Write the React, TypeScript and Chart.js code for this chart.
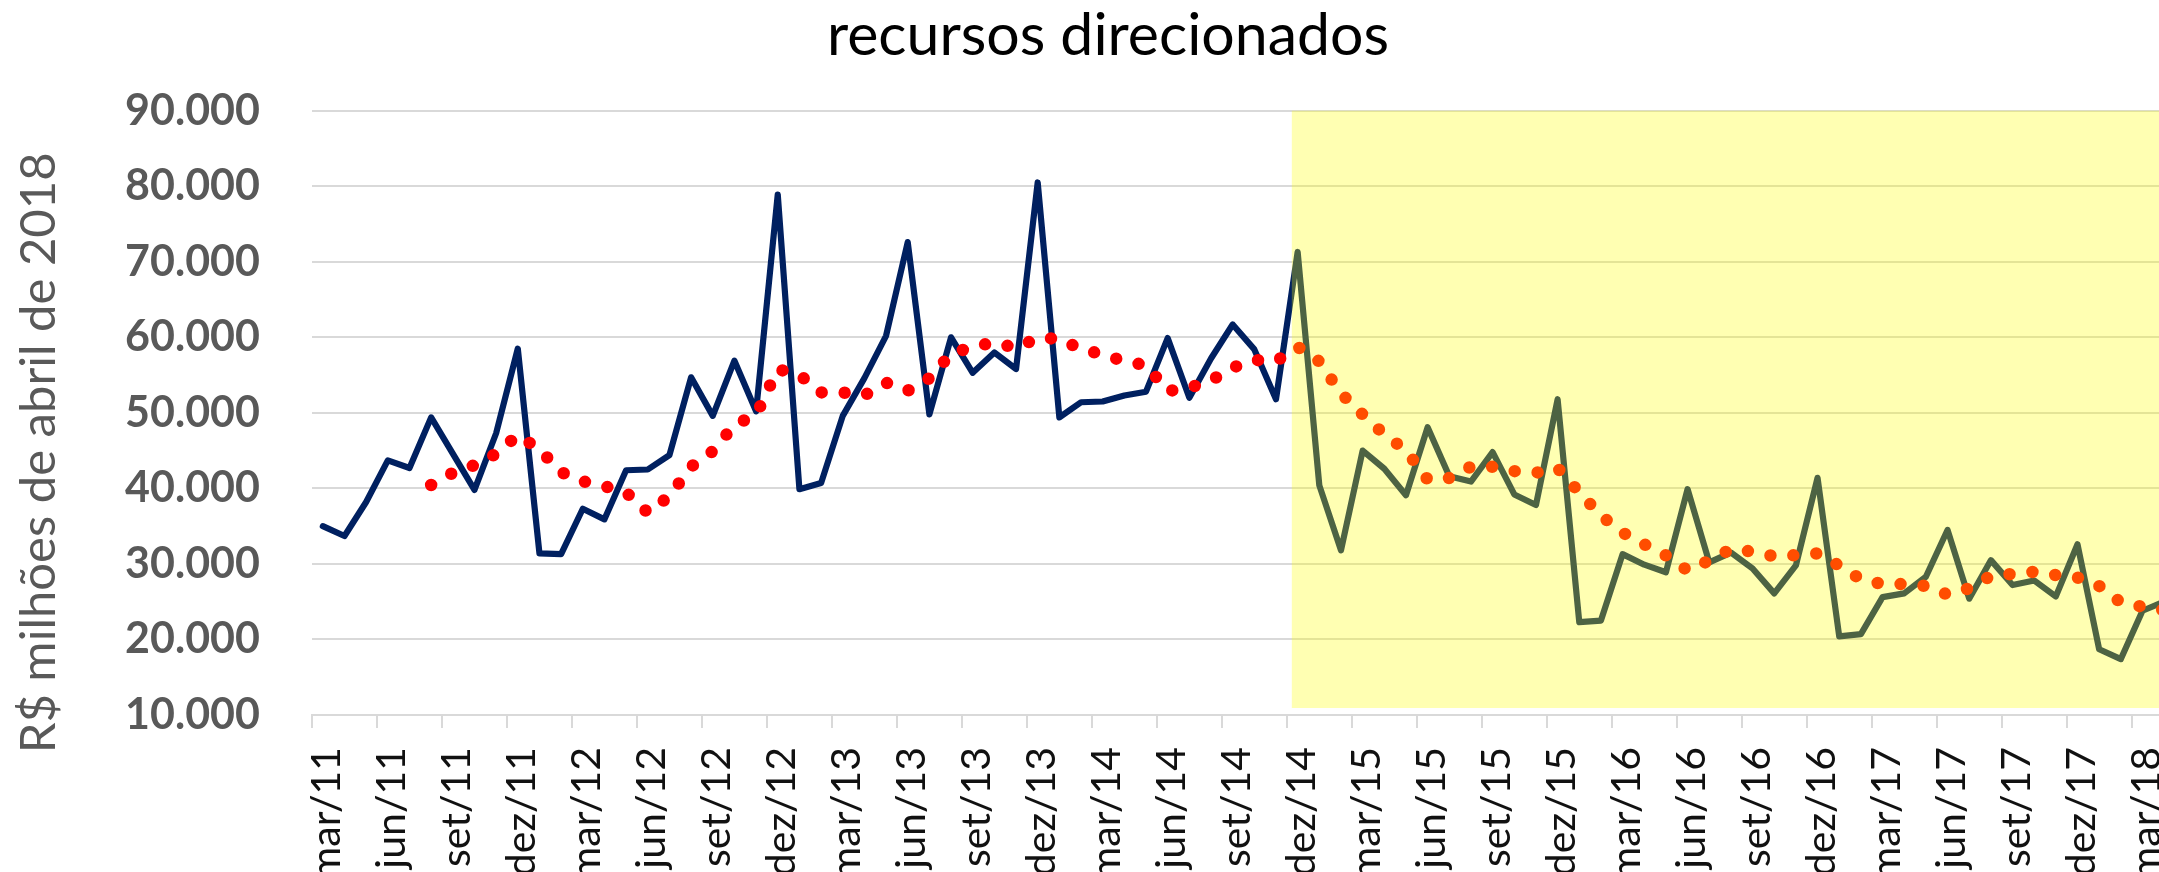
import React, { useEffect, useRef } from 'react';
import { Chart, registerables } from 'chart.js';

Chart.register(...registerables);

const meses = [
  'mar/11', 'abr/11', 'mai/11', 'jun/11', 'jul/11', 'ago/11', 'set/11', 'out/11', 'nov/11', 'dez/11',
  'jan/12', 'fev/12', 'mar/12', 'abr/12', 'mai/12', 'jun/12', 'jul/12', 'ago/12', 'set/12', 'out/12', 'nov/12', 'dez/12',
  'jan/13', 'fev/13', 'mar/13', 'abr/13', 'mai/13', 'jun/13', 'jul/13', 'ago/13', 'set/13', 'out/13', 'nov/13', 'dez/13',
  'jan/14', 'fev/14', 'mar/14', 'abr/14', 'mai/14', 'jun/14', 'jul/14', 'ago/14', 'set/14', 'out/14', 'nov/14', 'dez/14',
  'jan/15', 'fev/15', 'mar/15', 'abr/15', 'mai/15', 'jun/15', 'jul/15', 'ago/15', 'set/15', 'out/15', 'nov/15', 'dez/15',
  'jan/16', 'fev/16', 'mar/16', 'abr/16', 'mai/16', 'jun/16', 'jul/16', 'ago/16', 'set/16', 'out/16', 'nov/16', 'dez/16',
  'jan/17', 'fev/17', 'mar/17', 'abr/17', 'mai/17', 'jun/17', 'jul/17', 'ago/17', 'set/17', 'out/17', 'nov/17', 'dez/17',
  'jan/18', 'fev/18', 'mar/18', 'abr/18',
];

// R$ milhões de abril de 2018
const recursosDirecionados = [
  35000, 33700, 38200, 43700, 42700, 49400, 44600, 39800, 47300, 58500,
  31400, 31300, 37300, 35900, 42400, 42500, 44400, 54700, 49600, 56900, 50200, 78900,
  39900, 40700, 49600, 54600, 60200, 72600, 49800, 60000, 55300, 58000, 55800, 80500,
  49400, 51400, 51500, 52300, 52800, 59900, 52000, 57200, 61700, 58400, 51800, 71300,
  40400, 31800, 45000, 42600, 39100, 48100, 41600, 40900, 44800, 39200, 37800, 51800,
  22300, 22500, 31300, 29900, 28900, 39900, 30200, 31500, 29400, 26100, 29800, 41400,
  20400, 20700, 25600, 26100, 28300, 34500, 25400, 30500, 27200, 27800, 25700, 32600,
  18700, 17400, 23800, 25000,
];

const periodoMediaMovel = 6;
const inicioDestaque = 'dez/14';
const tituloGrafico = 'recursos direcionados';
const tituloEixoY = 'R$ milhões de abril de 2018';
const eixoYMin = 10000;
const eixoYMax = 90000;
const eixoYPasso = 10000;
const intervaloRotulos = 3;

// Excel-style moving-average trendline derived from the series
const mediaMovel = recursosDirecionados.map((_, i) => {
  if (i < periodoMediaMovel - 1) return null;
  const janela = recursosDirecionados.slice(i - periodoMediaMovel + 1, i + 1);
  return janela.reduce((a, b) => a + b, 0) / janela.length;
});

const formatarMilhar = (v: number) => String(Math.round(v)).replace(/\B(?=(\d{3})+(?!\d))/g, '.');

const destaquePlugin = {
  id: 'destaque',
  afterDatasetsDraw(chart: any) {
    const { ctx, chartArea, scales } = chart;
    const x = scales.x;
    const idx = meses.indexOf(inicioDestaque);
    const largCat = (chartArea.right - chartArea.left) / meses.length;
    const left = x.getPixelForValue(idx) - largCat * 0.27;
    ctx.save();
    ctx.fillStyle = 'rgba(255,255,0,0.30)';
    ctx.fillRect(left, chartArea.top, chart.width - left, chartArea.bottom - 7 - chartArea.top);
    ctx.restore();
  },
};

const textosPlugin = {
  id: 'textos',
  afterDraw(chart: any) {
    const { ctx, chartArea } = chart;
    ctx.save();
    ctx.font = '59px Lato';
    ctx.fillStyle = '#000000';
    ctx.textAlign = 'center';
    ctx.textBaseline = 'alphabetic';
    ctx.fillText(tituloGrafico, chart.width / 2, 55);
    ctx.restore();

    ctx.save();
    ctx.translate(55, (chartArea.top + chartArea.bottom) / 2 + 40);
    ctx.rotate(-Math.PI / 2);
    ctx.font = '49px Lato';
    ctx.fillStyle = '#595959';
    ctx.textAlign = 'center';
    ctx.textBaseline = 'alphabetic';
    ctx.fillText(tituloEixoY, 0, 0);
    ctx.restore();
  },
};

export default function App() {
  const canvasRef = useRef<HTMLCanvasElement | null>(null);

  useEffect(() => {
    if (!canvasRef.current) return;
    const chart = new Chart(canvasRef.current, {
      type: 'line',
      data: {
        labels: meses,
        datasets: [
          {
            label: 'Média móvel (6 meses)',
            data: mediaMovel,
            borderColor: '#FF0000',
            borderWidth: 12.5,
            borderDash: [0, 23],
            borderCapStyle: 'round',
            borderJoinStyle: 'round',
            pointRadius: 0,
            pointHoverRadius: 0,
            fill: false,
            tension: 0,
            spanGaps: false,
          },
          {
            label: tituloGrafico,
            data: recursosDirecionados,
            borderColor: '#002060',
            borderWidth: 6.2,
            borderCapStyle: 'round',
            borderJoinStyle: 'round',
            pointRadius: 0,
            pointHoverRadius: 0,
            fill: false,
            tension: 0,
          },
        ],
      },
      options: {
        animation: false,
        responsive: false,
        devicePixelRatio: 1,
        layout: { padding: { left: 0, right: 41, top: 110.7, bottom: 0 } },
        plugins: {
          legend: { display: false },
          tooltip: { enabled: false },
          title: { display: false },
        },
        scales: {
          x: {
            type: 'category',
            offset: true,
            afterFit: (scale: any) => {
              scale.height = 185;
              scale.paddingLeft = 0;
              scale.paddingRight = 0;
            },
            border: { display: true, color: '#D9D9D9', width: 2 },
            grid: {
              offset: true,
              drawOnChartArea: false,
              drawTicks: true,
              tickLength: 13,
              lineWidth: 2,
              color: (ctx: any) => (ctx.index % intervaloRotulos === 0 ? '#D9D9D9' : 'rgba(0,0,0,0)'),
            },
            ticks: {
              autoSkip: false,
              minRotation: 90,
              maxRotation: 90,
              padding: 19,
              labelOffset: 4,
              color: '#111111',
              font: { family: 'Lato', size: 41 },
              callback: (_v: any, i: number) => (i % intervaloRotulos === 0 ? meses[i] : ''),
            },
          },
          y: {
            min: eixoYMin,
            max: eixoYMax,
            afterFit: (scale: any) => {
              scale.width = 312;
              scale.paddingTop = 0;
              scale.paddingBottom = 0;
            },
            border: { display: false },
            grid: { color: '#D9D9D9', lineWidth: 2, drawTicks: false },
            ticks: {
              stepSize: eixoYPasso,
              padding: 52,
              color: '#595959',
              font: { family: 'Lato', size: 43, weight: 'bold' },
              callback: (v: any) => formatarMilhar(Number(v)),
            },
          },
        },
      },
      plugins: [destaquePlugin, textosPlugin],
    });
    return () => chart.destroy();
  }, []);

  return (
    <div style={{ position: 'fixed', left: 0, top: 0, width: 2159, height: 872, overflow: 'hidden', background: '#ffffff' }}>
      <canvas ref={canvasRef} width={2216} height={900} style={{ display: 'block', width: 2216, height: 900 }} />
    </div>
  );
}
